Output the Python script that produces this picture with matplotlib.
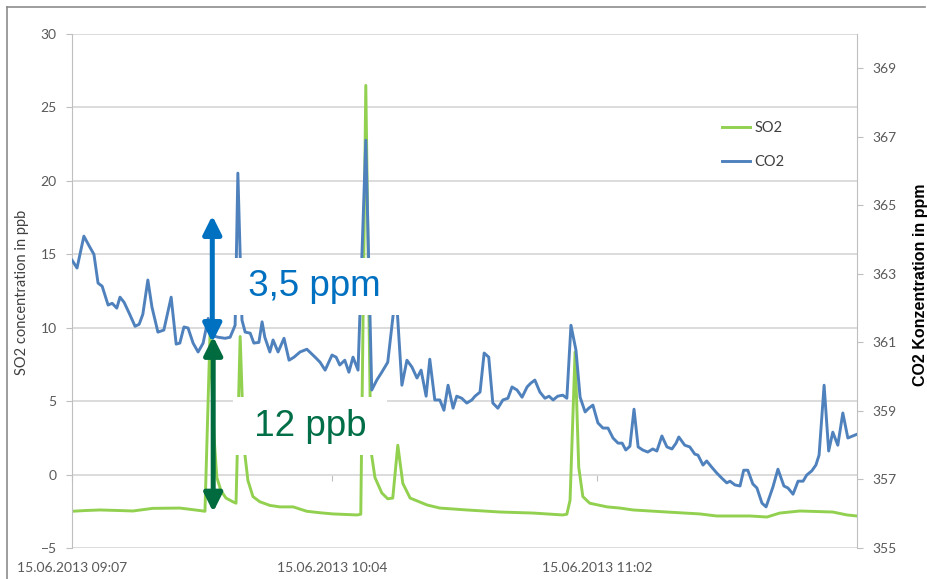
import matplotlib
matplotlib.use('Agg')
import matplotlib.pyplot as plt
from matplotlib.lines import Line2D
from matplotlib.patches import FancyArrowPatch

plt.rcParams['font.family'] = ['Lato', 'DejaVu Sans']

# time axis in minutes after 15.06.2013 09:07
so2_min = [0, 2.8, 6.1, 10.5, 13.3, 17.7, 23.6, 28.0, 29.1,
           30.2, 31.1, 31.7, 32.6, 33.7, 35.2, 35.9,
           36.8, 37.6, 38.5, 39.6, 41.1, 43.3, 45.5, 48.4, 51.4, 54.3, 57.1,
           62.4, 63.2, 64.3, 65.4, 66.3, 67.8, 69.1, 70.2, 71.3, 72.4, 74.0,
           77.7, 80.5, 86.4, 93.7, 100.9, 107.4, 108.3, 109.0, 110.1, 110.9, 111.8, 113.3,
           117.1, 119.9, 122.8, 130.2, 137.4, 141.1, 148.4, 152.1, 154.9, 159.3, 166.5, 169.6, 171.8]
so2_ppb = [-2.5, -2.45, -2.41, -2.45, -2.48, -2.3, -2.28, -2.45, -2.5,
           9.5, 2.5, -0.2, -1.1, -1.6, -1.85, -1.95,
           9.4, 2.0, -0.4, -1.5, -1.85, -2.1, -2.2, -2.2, -2.5, -2.6, -2.68,
           -2.75, -2.7, 26.5, 1.7, -0.2, -1.25, -1.65, -1.6, 2.0, -0.6, -1.6,
           -2.07, -2.28, -2.41, -2.55, -2.62, -2.75, -2.7, -1.75, 8.35, 0.5, -1.5, -1.95,
           -2.2, -2.28, -2.41, -2.55, -2.68, -2.82, -2.82, -2.89, -2.62, -2.48, -2.55, -2.75, -2.82]

co2_min = [0, 1.1, 2.6, 3.9, 4.8, 5.7, 6.6, 7.9, 8.8, 9.8, 10.5, 11.4, 12.7, 13.8, 14.7,
           15.5, 16.6, 17.5, 18.8, 20.1, 21.7, 22.8, 23.6, 24.5, 25.4, 26.5, 27.6, 28.7,
           29.8, 30.6, 32.0, 33.5, 34.6, 35.7, 36.3, 37.2, 37.9, 39.0, 39.8, 40.9, 41.6,
           42.2, 43.3, 44.0, 45.1, 46.4, 47.5, 48.6, 49.9, 51.4, 53.2, 54.3, 55.4, 56.9,
           57.8, 58.6, 59.7, 60.6, 61.5, 62.6, 64.3, 65.6, 66.7, 67.8, 69.1, 70.9, 72.2,
           73.3, 74.4, 75.5, 76.4, 77.5, 78.3, 79.4, 80.5, 81.4, 82.3, 83.4, 84.2, 85.3,
           86.4, 87.5, 88.2, 89.3, 90.2, 91.2, 92.1, 93.2, 94.3, 95.4, 96.3, 97.4, 98.5,
           99.6, 100.4, 101.3, 102.4, 103.5, 104.4, 105.3, 106.3, 107.4, 108.3, 109.2,
           110.3, 111.2, 112.3, 113.1, 114.0, 115.1, 116.2, 117.3, 118.4, 119.5, 120.4,
           121.2, 122.1, 123.0, 123.9, 124.9, 126.0, 127.1, 128.0, 129.1, 130.2, 131.3,
           132.2, 132.8, 134.1, 135.2, 136.3, 137.0, 138.1, 138.9, 140.0, 141.1, 142.2,
           143.3, 144.0, 145.1, 146.2, 147.0, 147.9, 149.0, 149.9, 151.0, 151.9, 153.4,
           154.5, 155.8, 156.7, 157.8, 158.9, 160.0, 160.8, 161.9, 162.8, 163.5, 164.6,
           165.6, 166.5, 167.6, 168.7, 169.8, 170.9, 171.8]
co2_ppm = [363.40, 363.17, 364.10, 363.78, 363.57, 362.73, 362.64, 362.09, 362.14, 362.00,
           362.32, 362.17, 361.80, 361.47, 361.53, 361.82, 362.82, 362.03, 361.30, 361.36,
           362.32, 360.95, 360.98, 361.45, 361.42, 360.98, 360.72, 360.98, 361.70, 361.20,
           361.15, 361.12, 361.15, 361.50, 365.94, 361.65, 361.30, 361.27, 360.98, 361.00,
           361.60, 361.15, 360.72, 361.07, 360.72, 361.12, 360.48, 360.57, 360.72, 360.80,
           360.57, 360.42, 360.19, 360.63, 360.57, 360.34, 360.48, 360.13, 360.57, 360.19,
           366.90, 359.61, 359.90, 360.13, 360.42, 362.52, 359.75, 360.48, 360.28, 359.96,
           360.19, 359.43, 360.51, 359.32, 359.32, 359.02, 359.75, 359.08, 359.43, 359.37,
           359.23, 359.32, 359.43, 359.55, 360.69, 360.57, 359.23, 359.08, 359.32, 359.37,
           359.70, 359.61, 359.40, 359.70, 359.81, 359.90, 359.55, 359.37, 359.43, 359.32,
           359.43, 359.46, 359.37, 361.50, 360.77, 359.40, 358.97, 359.08, 359.17, 358.65,
           358.50, 358.50, 358.21, 358.06, 358.06, 357.86, 357.97, 359.05, 357.95, 357.86,
           357.80, 357.89, 357.83, 358.27, 357.95, 357.89, 358.06, 358.24, 358.00, 357.95,
           357.74, 357.71, 357.42, 357.54, 357.36, 357.19, 357.04, 356.90, 356.95, 356.84,
           356.81, 357.27, 357.27, 356.87, 356.75, 356.31, 356.20, 356.78, 357.30, 356.81,
           356.75, 356.57, 356.95, 356.95, 357.13, 357.25, 357.42, 357.71, 359.75, 357.83,
           358.38, 358.00, 358.94, 358.21, 358.27, 358.32]

tick_min = [0, 57, 115]
tick_labels = ['15.06.2013 09:07', '15.06.2013 10:04', '15.06.2013 11:02']

fig = plt.figure(figsize=(9.27, 5.79), dpi=100)
ax = fig.add_axes([72 / 927, 31 / 579, 785 / 927, 514 / 579])
ax2 = ax.twinx()

l1, = ax.plot(so2_min, so2_ppb, color='#92D050', lw=2.1, label='SO2')
l2, = ax2.plot(co2_min, co2_ppm, color='#4F81BD', lw=2.1, label='CO2')

ax.set_xlim(0, 171.8)
ax.set_yticks(range(-5, 31, 5))
ax2.set_yticks(range(355, 370, 2))
ax.set_xticks(tick_min, tick_labels)

ax.grid(axis='y', color='#D9D9D9', lw=1.3)
ax.set_axisbelow(True)
for a in (ax, ax2):
    a.spines['top'].set_visible(False)
    a.spines['bottom'].set_visible(False)
ax.spines['right'].set_visible(False)
ax2.spines['left'].set_visible(False)
ax.spines['left'].set_color('#BFBFBF')
ax2.spines['right'].set_color('#BFBFBF')
ax.tick_params(axis='y', length=4, color='#BFBFBF', pad=7, labelsize=10, labelcolor='#595959')
ax2.tick_params(axis='y', length=4, color='#BFBFBF', pad=7, labelsize=10, labelcolor='#595959')
ax.tick_params(axis='x', length=0, pad=10, labelsize=10, labelcolor='#595959')

# small category ticks where the x axis crosses zero
sec = ax.secondary_xaxis(5 / 35)
sec.set_xticks(tick_min)
sec.tick_params(axis='x', length=4, color='#BFBFBF', labelbottom=False, labeltop=False)
for s in sec.spines.values():
    s.set_visible(False)

ax2.legend(handles=[l1, l2], loc='upper left', bbox_to_anchor=(0.828, 0.831),
           frameon=False, fontsize=10.5, labelcolor='#404040', handlelength=1.9,
           handletextpad=0.3, labelspacing=1.37, borderpad=0, borderaxespad=0)

# annotations
ax2.add_patch(FancyArrowPatch((30.7, 361.0), (30.7, 364.7),
                              arrowstyle='<|-|>,head_length=11,head_width=5.5',
                              mutation_scale=1, lw=3.6, color='#0070C0',
                              shrinkA=0, shrinkB=0, zorder=4))
ax2.add_patch(FancyArrowPatch((30.9, -2.55), (30.9, 9.4), transform=ax.transData,
                              arrowstyle='<|-|>,head_length=11,head_width=5.5',
                              mutation_scale=1, lw=3.6, color='#006B3F',
                              shrinkA=0, shrinkB=0, zorder=4))
ax2.text(53.1, 362.64, ' 3,5 ppm ', ha='center', va='center', fontsize=26.5,
         family='Liberation Sans', color='#0070C0', zorder=5,
         bbox=dict(boxstyle='square,pad=0.3', fc='white', ec='none'))
ax2.text(52.1, 358.56, ' 12 ppb ', ha='center', va='center', fontsize=26.5,
         family='Liberation Sans', color='#006E46', zorder=5,
         bbox=dict(boxstyle='square,pad=0.3', fc='white', ec='none'))

ax.set_ylim(-5, 30)
ax2.set_ylim(355, 370)

fig.text(22 / 927, 1 - 292 / 579, 'SO2 concentration in ppb', rotation=90,
         ha='center', va='center', fontsize=10.5, color='#404040')
fig.text(921 / 927, 1 - 285 / 579, 'CO2 Konzentration in ppm', rotation=90,
         ha='center', va='center', fontsize=11.5, fontweight='bold',
         family='Liberation Sans', color='black')

# slide frame
fig.add_artist(Line2D([7 / 927, 925 / 927], [1 - 7 / 579, 1 - 7 / 579], color='#8C8C8C', lw=1.2))
fig.add_artist(Line2D([7 / 927, 7 / 927], [0, 1 - 7 / 579], color='#8C8C8C', lw=1.2))

fig.savefig('out.png', dpi=100, facecolor='white')
